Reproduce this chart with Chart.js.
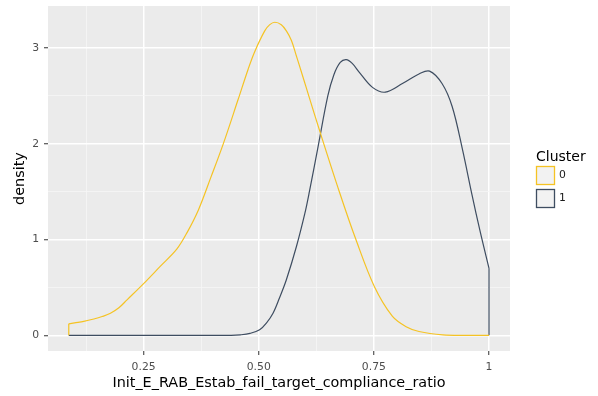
<!DOCTYPE html>
<html>
<head>
<meta charset="utf-8">
<script src="https://cdn.jsdelivr.net/npm/chart.js@4/dist/chart.umd.min.js"></script>
<style>
  html, body { margin: 0; padding: 0; background: #ffffff; }
  #wrap { width: 598px; height: 396px; }
</style>
</head>
<body>
<div id="wrap"><canvas id="c" width="598" height="396"></canvas></div>
<script>
// ---- data ----
const clusterLabels = ["0", "1"];

// Cluster 0: starts with a vertical edge at the lower data limit
const cluster0X = [0.0875, 0.0875, 0.100, 0.120, 0.142, 0.160, 0.178, 0.197, 0.214, 0.250, 0.286, 0.322, 0.344, 0.369, 0.396, 0.423, 0.455, 0.477, 0.491, 0.513, 0.524, 0.535, 0.549, 0.560, 0.571, 0.581, 0.594, 0.610, 0.632, 0.675, 0.711, 0.751, 0.790, 0.820, 0.848, 0.900, 0.950, 1.000];
const cluster0Y = [0.00, 0.12, 0.13, 0.145, 0.17, 0.196, 0.23, 0.29, 0.37, 0.54, 0.72, 0.90, 1.07, 1.31, 1.65, 2.00, 2.46, 2.78, 2.96, 3.18, 3.245, 3.27, 3.245, 3.18, 3.08, 2.93, 2.73, 2.48, 2.14, 1.50, 1.00, 0.51, 0.20, 0.09, 0.04, 0.005, 0.00, 0.00];

// Cluster 1: ends with a vertical edge at the upper data limit
const cluster1X = [0.0875, 0.440, 0.460, 0.481, 0.502, 0.517, 0.531, 0.545, 0.560, 0.582, 0.600, 0.610, 0.630, 0.650, 0.663, 0.677, 0.690, 0.703, 0.718, 0.747, 0.775, 0.812, 0.848, 0.871, 0.898, 0.920, 0.942, 0.963, 0.981, 1.000, 1.000];
const cluster1Y = [0.00, 0.00, 0.005, 0.02, 0.057, 0.13, 0.23, 0.39, 0.58, 0.93, 1.27, 1.50, 2.00, 2.50, 2.72, 2.85, 2.88, 2.84, 2.75, 2.59, 2.54, 2.63, 2.73, 2.76, 2.63, 2.39, 1.95, 1.47, 1.08, 0.70, 0.00];

const xTicks = [0.125, 0.25, 0.375, 0.5, 0.625, 0.75, 0.875, 1.0];
const xTickLabels = {"0.25": "0.25", "0.5": "0.50", "0.75": "0.75", "1": "1"};
const yTicks = [0, 0.5, 1, 1.5, 2, 2.5, 3];
const yTickLabels = {"0": "0", "1": "1", "2": "2", "3": "3"};

const xTitle = "Init_E_RAB_Estab_fail_target_compliance_ratio";
const yTitle = "density";
const legendTitle = "Cluster";

const colors = ["#F5C324", "#3E4D61"];

function pts(xs, ys, from, to) {
  return xs.slice(from, to).map((x, i) => ({x: x, y: ys.slice(from, to)[i]}));
}

const FONT = "'DejaVu Sans', sans-serif";

const panelBg = {
  id: 'panelBg',
  beforeDraw(chart) {
    const {ctx, chartArea: a} = chart;
    ctx.save();
    ctx.fillStyle = '#EBEBEB';
    ctx.fillRect(a.left, a.top, a.right - a.left, a.bottom - a.top);
    ctx.restore();
  }
};

const customLegend = {
  id: 'customLegend',
  afterDraw(chart) {
    const ctx = chart.ctx;
    ctx.save();
    ctx.fillStyle = '#000000';
    ctx.font = "14px " + FONT;
    ctx.textBaseline = 'alphabetic';
    ctx.textAlign = 'left';
    ctx.fillText(legendTitle, 536, 161);
    chart.data.datasets.filter(ds => !ds.isEdge).forEach((ds, i) => {
      const y = 166 + i * 23;
      ctx.fillStyle = '#F2F2F2';
      ctx.fillRect(536.5, y + 0.5, 18, 18);
      ctx.strokeStyle = ds.borderColor;
      ctx.lineWidth = 1.3;
      ctx.strokeRect(536.5, y + 0.5, 18, 18);
      ctx.fillStyle = '#1A1A1A';
      ctx.font = "10.8px " + FONT;
      ctx.textBaseline = 'middle';
      ctx.fillText(ds.label, 559, y + 9.5);
    });
    ctx.restore();
  }
};

const isMajorX = v => xTickLabels[String(v)] !== undefined;
const isMajorY = v => yTickLabels[String(v)] !== undefined;

const n0 = cluster0X.length, n1 = cluster1X.length;
const lineStyle = { showLine: true, pointRadius: 0, borderWidth: 1.2, backgroundColor: '#F2F2F2' };

new Chart(document.getElementById('c'), {
  type: 'scatter',
  data: {
    datasets: [
      Object.assign({ label: clusterLabels[0], data: pts(cluster0X, cluster0Y, 1, n0), borderColor: colors[0], tension: 0.35, order: 1 }, lineStyle),
      Object.assign({ label: clusterLabels[1], data: pts(cluster1X, cluster1Y, 0, n1 - 1), borderColor: colors[1], tension: 0.35, order: 2 }, lineStyle),
      Object.assign({ label: clusterLabels[0], isEdge: true, data: pts(cluster0X, cluster0Y, 0, 2), borderColor: colors[0], tension: 0, order: 1 }, lineStyle),
      Object.assign({ label: clusterLabels[1], isEdge: true, data: pts(cluster1X, cluster1Y, n1 - 2, n1), borderColor: colors[1], tension: 0, order: 2 }, lineStyle)
    ]
  },
  options: {
    responsive: false,
    animation: false,
    devicePixelRatio: 1,
    layout: { padding: { top: 6, right: 88, left: 0, bottom: 0 } },
    plugins: { legend: { display: false }, tooltip: { enabled: false } },
    scales: {
      x: {
        type: 'linear', min: 0.0424, max: 1.0456,
        afterBuildTicks: s => { s.ticks = xTicks.map(v => ({value: v})); },
        afterFit: s => { s.height = 45; s.paddingLeft = 0; s.paddingRight = 0; },
        border: { display: false },
        grid: {
          color: c => isMajorX(c.tick.value) ? '#FFFFFF' : '#F6F6F6',
          lineWidth: c => isMajorX(c.tick.value) ? 1.5 : 0.8,
          tickColor: c => isMajorX(c.tick.value) ? '#333333' : 'rgba(0,0,0,0)',
          tickLength: 4, tickWidth: 1
        },
        ticks: {
          autoSkip: false, maxRotation: 0, padding: 6,
          color: '#4D4D4D', font: { family: FONT, size: 10.8 },
          callback: v => xTickLabels[String(v)] !== undefined ? xTickLabels[String(v)] : ''
        },
        title: { display: true, text: xTitle, color: '#000000', font: { family: FONT, size: 14.4 }, padding: { top: 0, bottom: 4 } }
      },
      y: {
        type: 'linear', min: -0.164, max: 3.44,
        afterBuildTicks: s => { s.ticks = yTicks.map(v => ({value: v})); },
        afterFit: s => { s.width = 48; s.paddingTop = 0; s.paddingBottom = 0; },
        border: { display: false },
        grid: {
          color: c => isMajorY(c.tick.value) ? '#FFFFFF' : '#F6F6F6',
          lineWidth: c => isMajorY(c.tick.value) ? 1.5 : 0.8,
          tickColor: c => isMajorY(c.tick.value) ? '#333333' : 'rgba(0,0,0,0)',
          tickLength: 4, tickWidth: 1
        },
        ticks: {
          autoSkip: false, padding: 5,
          color: '#4D4D4D', font: { family: FONT, size: 10.8 },
          callback: v => yTickLabels[String(v)] !== undefined ? yTickLabels[String(v)] : ''
        },
        title: { display: true, text: yTitle, color: '#000000', font: { family: FONT, size: 14.4 }, padding: { top: 12, bottom: 0 } }
      }
    }
  },
  plugins: [panelBg, customLegend]
});
</script>
</body>
</html>
